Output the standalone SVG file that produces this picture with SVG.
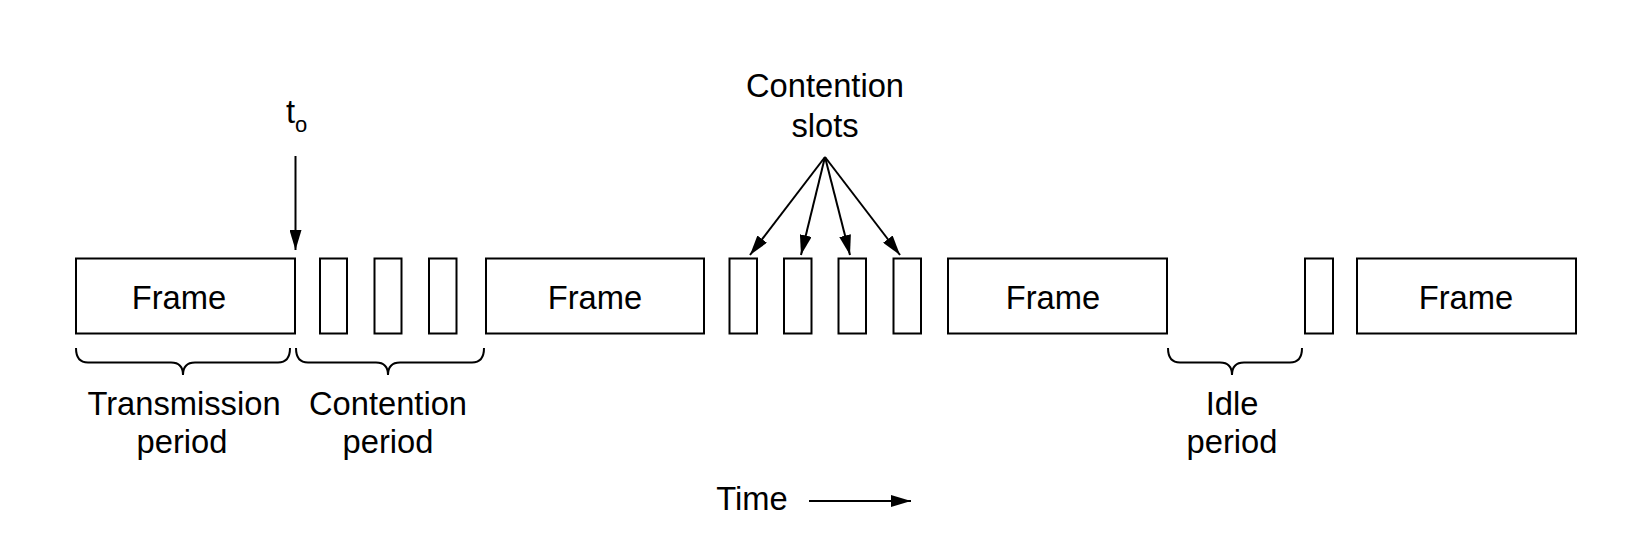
<svg xmlns="http://www.w3.org/2000/svg" width="1634" height="535" viewBox="0 0 1634 535">
<defs>
<style>
.box{fill:#fff;stroke:#000;stroke-width:2}
.ln{fill:none;stroke:#000;stroke-width:2}
.br{fill:none;stroke:#000;stroke-width:2}
text{font-family:"Liberation Sans",Arial,sans-serif;font-size:32.7px;fill:#000;text-anchor:middle}
</style>
<marker id="ah" markerUnits="userSpaceOnUse" markerWidth="20" markerHeight="12" refX="20" refY="6" orient="auto">
<path d="M0,0 L20,6 L0,12 z" fill="#000"/>
</marker>
</defs>
<rect width="1634" height="535" fill="#fff"/>
<g id="frame1"><rect class="box" x="76" y="258.5" width="219" height="75"/><text x="179" y="308.5">Frame</text></g>
<g id="slot1"><rect class="box" x="320" y="258.5" width="27" height="75"/></g>
<g id="slot2"><rect class="box" x="374.5" y="258.5" width="27" height="75"/></g>
<g id="slot3"><rect class="box" x="429" y="258.5" width="27.5" height="75"/></g>
<g id="frame2"><rect class="box" x="486" y="258.5" width="218" height="75"/><text x="595" y="308.5">Frame</text></g>
<g id="slot4"><rect class="box" x="729.5" y="258.5" width="27.5" height="75"/></g>
<g id="slot5"><rect class="box" x="784" y="258.5" width="27.5" height="75"/></g>
<g id="slot6"><rect class="box" x="838.5" y="258.5" width="27.5" height="75"/></g>
<g id="slot7"><rect class="box" x="893.5" y="258.5" width="27.5" height="75"/></g>
<g id="frame3"><rect class="box" x="948" y="258.5" width="219" height="75"/><text x="1053" y="308.5">Frame</text></g>
<g id="slot8"><rect class="box" x="1305" y="258.5" width="28" height="75"/></g>
<g id="frame4"><rect class="box" x="1357" y="258.5" width="219" height="75"/><text x="1466" y="308.5">Frame</text></g>
<g id="t0-label"><text x="286" y="123" style="text-anchor:start">t</text><text x="295" y="131.5" style="text-anchor:start;font-size:22px">o</text></g>
<g id="slots-label"><text x="825" y="97">Contention</text><text x="825" y="137">slots</text></g>
<g id="braces">
<path class="br" d="M76,348 Q76,362.5 88,362.5 L171,362.5 Q183,362.5 183,375 Q183,362.5 195,362.5 L278,362.5 Q290,362.5 290,348"/>
<path class="br" d="M296,348 Q296,362.5 308,362.5 L376,362.5 Q388,362.5 388,375 Q388,362.5 400,362.5 L472,362.5 Q484,362.5 484,348"/>
<path class="br" d="M1168,348 Q1168,362.5 1180,362.5 L1220,362.5 Q1232,362.5 1232,375 Q1232,362.5 1244,362.5 L1290,362.5 Q1302,362.5 1302,348"/>
</g>
<g id="period-labels">
<text x="184" y="415">Transmission</text><text x="182" y="452.5">period</text>
<text x="388" y="415">Contention</text><text x="388" y="452.5">period</text>
<text x="1232" y="414.5">Idle</text><text x="1232" y="452.5">period</text>
</g>
<g id="time-label"><text x="752" y="510">Time</text></g>
<g id="connectors">
<line class="ln" x1="295.5" y1="156" x2="295.5" y2="250" marker-end="url(#ah)"/>
<line class="ln" x1="825" y1="157" x2="750" y2="255" marker-end="url(#ah)"/>
<line class="ln" x1="825" y1="157" x2="801" y2="255" marker-end="url(#ah)"/>
<line class="ln" x1="825" y1="157" x2="850" y2="255" marker-end="url(#ah)"/>
<line class="ln" x1="825" y1="157" x2="900" y2="255" marker-end="url(#ah)"/>
<line class="ln" x1="809" y1="501" x2="911" y2="501" marker-end="url(#ah)"/>
</g>
</svg>
